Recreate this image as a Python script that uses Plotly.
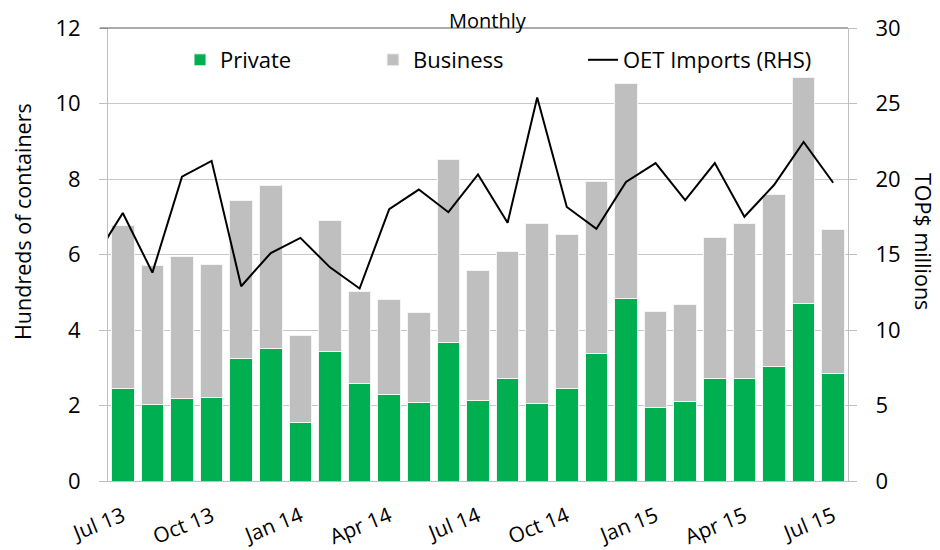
import plotly.graph_objects as go

months = ["Jun 13", "Jul 13", "Aug 13", "Sep 13", "Oct 13", "Nov 13", "Dec 13",
          "Jan 14", "Feb 14", "Mar 14", "Apr 14", "May 14", "Jun 14",
          "Jul 14", "Aug 14", "Sep 14", "Oct 14", "Nov 14", "Dec 14",
          "Jan 15", "Feb 15", "Mar 15", "Apr 15", "May 15", "Jun 15", "Jul 15"]
bar_months = months[1:]

private = [2.45, 2.02, 2.19, 2.21, 3.24, 3.52, 1.56, 3.42, 2.57, 2.28, 2.07, 3.66,
           2.12, 2.72, 2.05, 2.46, 3.39, 4.84, 1.94, 2.10, 2.72, 2.71, 3.04, 4.71, 2.85]
total = [6.77, 5.71, 5.95, 5.74, 7.43, 7.82, 3.85, 6.90, 5.03, 4.82, 4.46, 8.52,
         5.58, 6.09, 6.82, 6.53, 7.94, 10.52, 4.49, 4.68, 6.46, 6.82, 7.59, 10.70, 6.66]
business = [round(t - p, 2) for t, p in zip(total, private)]

oet_imports = [14.6, 17.75, 13.8, 20.15, 21.2, 12.9, 15.1, 16.1, 14.15, 12.75, 18.0,
               19.3, 17.8, 20.3, 17.1, 25.4, 18.15, 16.7, 19.8, 21.05, 18.6, 21.05,
               17.5, 19.6, 22.45, 19.75]

tick_labels = ["Jul 13", "Oct 13", "Jan 14", "Apr 14", "Jul 14", "Oct 14",
               "Jan 15", "Apr 15", "Jul 15"]

FONT = "Open Sans"
GRID = "#C8C8C8"
AXIS = "#BFBFBF"

fig = go.Figure()
fig.add_trace(go.Bar(x=bar_months, y=private, name="Private",
                     marker=dict(color="#00B050", line=dict(color="#F4F4F4", width=1)),
                     legend="legend"))
fig.add_trace(go.Bar(x=bar_months, y=business, name="Business",
                     marker=dict(color="#BFBFBF", line=dict(color="#F4F4F4", width=1)),
                     legend="legend2"))
fig.add_trace(go.Scatter(x=months, y=oet_imports, name="OET Imports (RHS)", mode="lines",
                         line=dict(color="#000000", width=2), yaxis="y2",
                         legend="legend3"))

# boundary positions for tick marks (left edge of every third month)
boundaries = [months.index(m) - 0.5 for m in tick_labels]

# page body has an 8px margin, so the figure is drawn 8px in and 8px down
fig.update_layout(
    width=932, height=542,
    margin=dict(l=100, r=92, t=20, b=69, autoexpand=False),
    paper_bgcolor="white", plot_bgcolor="white",
    barmode="stack", bargap=0.24,
    font=dict(family=FONT, size=22, color="#000000"),
    xaxis=dict(type="category", categoryorder="array", categoryarray=months,
               range=[0.5, len(months) - 0.5], automargin=False,
               tickmode="array", tickvals=tick_labels, ticktext=tick_labels,
               tickangle=-22, ticks="", ticklabelstandoff=14,
               showgrid=False, showline=True, linecolor=AXIS, linewidth=1,
               tickfont=dict(size=21), zeroline=False),
    xaxis2=dict(overlaying="x", anchor="y", side="bottom", automargin=False,
                range=[0.5, len(months) - 0.5],
                tickmode="array", tickvals=boundaries, ticks="outside",
                ticklen=8, tickcolor=AXIS, showticklabels=False,
                showgrid=False, showline=False, zeroline=False),
    yaxis=dict(range=[0, 12], dtick=2, showgrid=True, gridcolor=GRID, gridwidth=1,
               showline=True, linecolor=AXIS, ticks="outside", ticklen=8,
               tickcolor=AXIS, ticklabelstandoff=14, zeroline=False, automargin=False,
               tickfont=dict(size=22)),
    yaxis2=dict(range=[0, 30], dtick=5, overlaying="y", side="right", anchor="x",
                showgrid=False, showline=True, linecolor=AXIS, ticks="outside",
                ticklen=8, tickcolor=AXIS, ticklabelstandoff=14, zeroline=False,
                automargin=False, tickfont=dict(size=22)),
    legend=dict(x=(180 - 108) / 740, y=(481 - 60) / 453, xanchor="left", yanchor="middle",
                bgcolor="rgba(0,0,0,0)", font=dict(size=22)),
    legend2=dict(x=(373 - 108) / 740, y=(481 - 60) / 453, xanchor="left", yanchor="middle",
                 bgcolor="rgba(0,0,0,0)", font=dict(size=22)),
    legend3=dict(x=(583 - 108) / 740, y=(481 - 60) / 453, xanchor="left", yanchor="middle",
                 bgcolor="rgba(0,0,0,0)", font=dict(size=22)),
    showlegend=True,
    shapes=[dict(type="line", xref="paper", yref="paper", x0=-8 / 740, x1=1, y0=1, y1=1,
                 line=dict(color="#595959", width=1))],
    annotations=[
        dict(text="Monthly", xref="paper", yref="paper", x=(488 - 108) / 740,
             y=(481 - 21) / 453, xanchor="center", yanchor="middle", showarrow=False,
             font=dict(size=20)),
        dict(text="Hundreds of containers", xref="paper", yref="paper",
             x=(23 - 108) / 740, y=(481 - 222) / 453, xanchor="center", yanchor="middle",
             textangle=-90, showarrow=False, font=dict(size=21.5)),
        dict(text="TOP$ millions", xref="paper", yref="paper",
             x=(923 - 108) / 740, y=(481 - 241) / 453, xanchor="center", yanchor="middle",
             textangle=90, showarrow=False, font=dict(size=21.5)),
    ],
)

fig.write_html("out.html")
